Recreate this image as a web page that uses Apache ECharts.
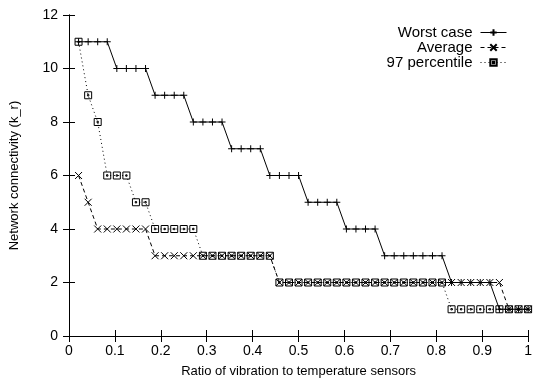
<!DOCTYPE html>
<html>
<head>
<meta charset="utf-8">
<script src="https://cdn.jsdelivr.net/npm/echarts@6/dist/echarts.min.js"></script>
<style>html,body{margin:0;padding:0;background:#fff;}#c{width:535px;height:383px;}</style>
</head>
<body>
<div id="c"></div>
<script>
var xs = [0.0208, 0.0417, 0.0625, 0.0833, 0.1042, 0.125, 0.1458, 0.1667, 0.1875, 0.2083, 0.2292, 0.25, 0.2708, 0.2917, 0.3125, 0.3333, 0.3542, 0.375, 0.3958, 0.4167, 0.4375, 0.4583, 0.4792, 0.5, 0.5208, 0.5417, 0.5625, 0.5833, 0.6042, 0.625, 0.6458, 0.6667, 0.6875, 0.7083, 0.7292, 0.75, 0.7708, 0.7917, 0.8125, 0.8333, 0.8542, 0.875, 0.8958, 0.9167, 0.9375, 0.9583, 0.9792, 1];
var worstCase = [11,11,11,11, 10,10,10,10, 9,9,9,9, 8,8,8,8, 7,7,7,7, 6,6,6,6, 5,5,5,5, 4,4,4,4, 3,3,3,3,3,3,3, 2,2,2,2,2, 1,1,1,1];
var average = [6, 5, 4,4,4,4,4,4, 3,3,3,3,3,3,3,3,3,3,3,3,3, 2,2,2,2,2,2,2,2,2,2,2,2,2,2,2,2,2,2,2,2,2,2,2,2, 1,1,1];
var percentile97 = [11, 9, 8, 6,6,6, 5,5, 4,4,4,4,4, 3,3,3,3,3,3,3,3, 2,2,2,2,2,2,2,2,2,2,2,2,2,2,2,2,2,2, 1,1,1,1,1,1,1,1,1];
var seriesNames = ['Worst case', 'Average', '97 percentile'];
var xTicks = [0, 0.1, 0.2, 0.3, 0.4, 0.5, 0.6, 0.7, 0.8, 0.9, 1];
var yTicks = [0, 2, 4, 6, 8, 10, 12];

function pairs(vals) { return xs.map(function (x, i) { return [x, vals[i]]; }); }

var FONT = 'Liberation Sans';
var chart = echarts.init(document.getElementById('c'), null, {renderer: 'canvas'});
var axisCommon = {
  axisLine: {show: true, lineStyle: {color: '#000', width: 1}},
  axisTick: {show: true, inside: true, length: 6, lineStyle: {color: '#000'}},
  splitLine: {show: false}
};
function mkSeries(name, vals, symbol, dash) {
  return {
    name: name, type: 'line', data: pairs(vals),
    symbol: symbol, symbolSize: 7, showSymbol: true,
    lineStyle: {color: '#000', width: 1, type: dash},
    itemStyle: {color: 'rgba(0,0,0,0)', borderColor: '#000', borderWidth: 1},
    animation: false
  };
}
chart.setOption({
  animation: false,
  grid: {left: 68, right: 4, top: 15, bottom: 46, containLabel: false},
  legend: {
    data: seriesNames, orient: 'vertical', align: 'right',
    right: 23, top: 20, itemWidth: 26, itemHeight: 8, itemGap: 0,
    textStyle: {fontFamily: FONT, fontSize: 15, color: '#000', padding: [0, 3, 0, 0]},
    lineStyle: {width: 1},
    inactiveColor: '#000'
  },
  xAxis: [
    Object.assign({type: 'value', min: 0, max: 1, interval: 0.1, position: 'bottom',
      name: 'Ratio of vibration to temperature sensors', nameLocation: 'middle', nameGap: 29,
      nameTextStyle: {fontFamily: FONT, fontSize: 13, color: '#000'},
      axisLabel: {fontFamily: FONT, fontSize: 14, color: '#000', margin: 8,
        formatter: function (v) { var i = xTicks.indexOf(Math.round(v * 10) / 10); return i >= 0 ? String(xTicks[i]) : ''; }}
    }, axisCommon),
    Object.assign({type: 'value', min: 0, max: 1, interval: 0.1, position: 'top', axisLabel: {show: false}}, axisCommon)
  ],
  yAxis: [
    Object.assign({type: 'value', min: 0, max: 12, interval: 2, position: 'left',
      name: 'Network connectivity (k_r)', nameLocation: 'middle', nameGap: 48, nameRotate: 90,
      nameTextStyle: {fontFamily: FONT, fontSize: 13, color: '#000'},
      axisLabel: {fontFamily: FONT, fontSize: 14, color: '#000', margin: 11,
        formatter: function (v) { return yTicks.indexOf(v) >= 0 ? String(v) : ''; }}
    }, axisCommon),
    Object.assign({type: 'value', min: 0, max: 12, interval: 2, position: 'right', axisLabel: {show: false}}, axisCommon)
  ],
  series: [
    mkSeries(seriesNames[0], worstCase, 'path://M0,5 L10,5 M5,0 L5,10', 'solid'),
    mkSeries(seriesNames[1], average, 'path://M0,0 L10,10 M10,0 L0,10', [4, 3]),
    mkSeries(seriesNames[2], percentile97, 'path://M0,0 L10,0 L10,10 L0,10 Z M4,4 L6,4 L6,6 L4,6 Z', [1, 3])
  ]
});
</script>
</body>
</html>
